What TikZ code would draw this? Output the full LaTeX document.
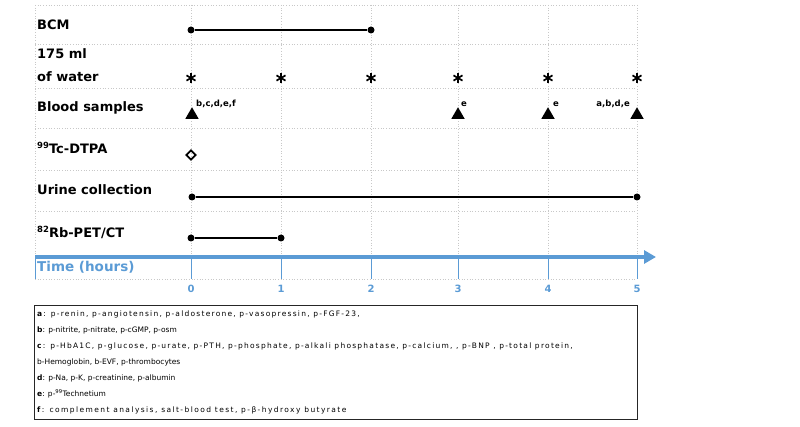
\documentclass[tikz,border=0pt]{standalone}
\usepackage{fontspec}
\setmainfont{DejaVu Sans}
\usetikzlibrary{arrows.meta,shapes.geometric}
\definecolor{axblue}{HTML}{5B9BD5}
\definecolor{gridgray}{HTML}{C8C8C8}
\newcommand{\lsp}[1]{\addfontfeature{LetterSpace=#1}}
\begin{document}
\begin{tikzpicture}[x=1pt,y=-1pt,
  gridline/.style={gridgray,dotted,line width=0.7pt},
  rowlabel/.style={anchor=base west,inner sep=0pt,font=\fontsize{13}{15}\selectfont\bfseries},
  supl/.style={inner sep=0pt,font=\fontsize{8.5}{10}\selectfont\bfseries},
  dot/.style={circle,fill=black,inner sep=0pt,minimum size=7pt},
  tline/.style={black,line width=2pt},
  tri/.style={regular polygon,regular polygon sides=3,fill=black,inner sep=0pt,minimum size=15.5pt},
  diam/.style={diamond,draw=black,line width=1.7pt,inner sep=0pt,minimum size=10pt},
  aster/.style={circle,inner sep=0pt,minimum size=12pt,
    path picture={\begin{scope}[shift={(path picture bounding box.center)},line width=1.7pt]
      \draw (90:5.2pt)--(270:5.2pt); \draw (30:5.2pt)--(210:5.2pt); \draw (150:5.2pt)--(330:5.2pt);
    \end{scope}}},
  tnum/.style={anchor=base,inner sep=0pt,text=axblue,font=\fontsize{10}{12}\selectfont\bfseries},
  legend/.style={anchor=base west,inner sep=0pt,font=\fontsize{7.5}{9}\selectfont},
  tick/.style={axblue,line width=1pt}
]
\useasboundingbox (0,0) rectangle (800,427);
% grid
\foreach \yy in {5,44,88,128,170,211,279}
  \draw[gridline] (35,\yy) -- (637,\yy);
\foreach \xx in {35,191,281,371,458,548,637}
  {\draw[gridline] (\xx,5) -- (\xx,257);
   \draw[tick] (\xx,257) -- (\xx,279);}
% axis
\coordinate (axs) at (35,257);
\coordinate (axe) at (656,257);
\draw[axblue,line width=3.5pt,-{Triangle[length=12pt,width=13pt]}] (axs) -- (axe);
\node[rowlabel,text=axblue,font=\fontsize{13.5}{15}\selectfont\bfseries] (timelbl) at (37,272) {Time (hours)};
\foreach \xx/\t in {191/0,281/1,371/2,458/3,548/4,637/5}
  \node[tnum] (t\t) at (\xx,293) {\t};
% row labels
\node[rowlabel] (lbcm) at (37,30) {BCM};
\node[rowlabel] (lwat1) at (37,59) {175 ml};
\node[rowlabel] (lwat2) at (37,82) {of water};
\node[rowlabel] (lblood) at (37,112) {Blood samples};
\node[rowlabel] (ltc) at (37,154) {\raisebox{5pt}{\fontsize{8.5}{10}\selectfont 99}Tc-DTPA};
\node[rowlabel] (lurine) at (37,195) {Urine collection};
\node[rowlabel] (lrb) at (37,238) {\raisebox{5pt}{\fontsize{8.5}{10}\selectfont 82}Rb-PET/CT};
% BCM
\node[dot] (bcm0) at (191,30) {};
\node[dot] (bcm2) at (371,30) {};
\draw[tline] (bcm0) -- (bcm2);
% water
\foreach \xx/\n in {191/0,281/1,371/2,458/3,548/4,637/5}
  \node[aster] (w\n) at (\xx,78) {};
% blood samples
\node[tri] (b0) at (192,115) {};
\node[tri] (b3) at (458,115) {};
\node[tri] (b4) at (548,115) {};
\node[tri] (b5) at (637,115) {};
\node[supl,anchor=west] (s0) at (196,104) {b,c,d,e,f};
\node[supl,anchor=west] (s3) at (461,104) {e};
\node[supl,anchor=west] (s4) at (553,104) {e};
\node[supl,anchor=east] (s5) at (630,104) {a,b,d,e};
% Tc-DTPA
\node[diam] (tc0) at (191,155) {};
% urine
\node[dot] (u0) at (192,197) {};
\node[dot] (u5) at (637,197) {};
\draw[tline] (u0) -- (u5);
% Rb PET
\node[dot] (r0) at (191,238) {};
\node[dot] (r1) at (281,238) {};
\draw[tline] (r0) -- (r1);
% legend box
\node[draw=black!85,line width=1.3pt,minimum width=603pt,minimum height=114pt,inner sep=0pt,anchor=north west] (box) at (34,305) {};
\node[legend] (la) at (37,316.5) {\lsp{16.5}\textbf{a}: p-renin, p-angiotensin, p-aldosterone, p-vasopressin, p-FGF-23,};
\node[legend] (lb) at (37,332.5) {\textbf{b}: p-nitrite, p-nitrate, p-cGMP, p-osm};
\node[legend] (lc) at (37,348.5) {\lsp{16.6}\textbf{c}: p-HbA1C, p-glucose, p-urate, p-PTH, p-phosphate, p-alkali phosphatase, p-calcium, , p-BNP , p-total protein,};
\node[legend] (lc2) at (37,364.5) {b-Hemoglobin, b-EVF, p-thrombocytes};
\node[legend] (ld) at (37,380.5) {\textbf{d}: p-Na, p-K, p-creatinine, p-albumin};
\node[legend] (le) at (37,396.5) {\textbf{e}: p-\textsuperscript{99}Technetium};
\node[legend] (lf) at (37,412.5) {\lsp{19}\textbf{f}: complement analysis, salt-blood test, p-β-hydroxy butyrate};
\end{tikzpicture}
\end{document}
